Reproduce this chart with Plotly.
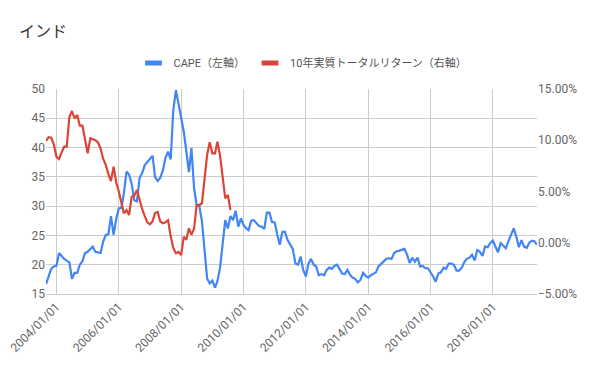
import plotly.graph_objects as go
import pandas as pd

title_text = "インド"
cape_name = "CAPE（左軸）"
ret_name = "10年実質トータルリターン（右軸）"
start_month = "2003-09-01"

# CAPE (left axis), monthly from 2003-09
cape = [
    16.7, 18.0, 19.3, 19.7, 19.8, 22.0, 21.5, 21.0, 20.7, 20.4,
    17.6, 18.6, 18.6, 20.0, 20.6, 22.0, 22.2, 22.7, 23.1, 22.2,
    22.1, 22.0, 23.9, 25.1, 25.2, 28.3, 25.1, 27.8, 29.6, 29.7,
    32.2, 35.9, 35.4, 33.8, 31.0, 30.8, 34.8, 35.6, 37.0, 37.5,
    38.1, 38.6, 35.0, 34.3, 34.8, 36.1, 38.2, 39.3, 38.0, 46.3,
    49.8, 47.4, 45.1, 42.7, 39.5, 35.8, 39.9, 33.0, 30.2, 30.0,
    27.4, 22.2, 17.6, 16.8, 17.3, 16.1, 17.2, 19.5, 24.0, 27.6,
    26.2, 28.3, 27.6, 29.2, 26.5, 27.9, 26.8, 26.2, 25.9, 27.5,
    27.6, 27.0, 26.6, 26.5, 26.1, 28.9, 28.9, 27.3, 27.2, 25.1,
    23.4, 25.6, 25.6, 24.2, 23.5, 22.7, 20.2, 20.0, 21.4, 19.1,
    18.0, 20.2, 21.0, 20.0, 19.7, 18.2, 18.4, 18.2, 19.1, 19.5,
    19.3, 19.8, 20.0, 19.3, 18.5, 18.4, 19.1, 18.3, 17.8, 17.6,
    17.0, 17.4, 18.6, 18.1, 17.8, 18.2, 18.5, 18.7, 19.7, 20.1,
    20.6, 21.0, 21.1, 21.0, 22.0, 22.3, 22.4, 22.5, 22.7, 21.7,
    20.3, 21.2, 20.5, 21.2, 19.7, 19.8, 19.4, 19.4, 18.8, 18.0,
    17.1, 18.5, 18.7, 19.5, 19.3, 20.2, 20.2, 20.0, 19.0, 19.0,
    19.5, 20.5, 21.0, 21.2, 21.7, 20.7, 22.5, 22.2, 21.5, 23.1,
    23.0, 23.7, 24.1, 23.1, 22.1, 23.7, 23.3, 22.8, 24.0, 25.1,
    26.2, 24.8, 23.0, 24.2, 23.1, 22.9, 23.7, 24.1, 24.0, 23.4,
]

# 10-year real total return in % (right axis), monthly from 2003-09
ret10 = [
    9.93, 10.29, 10.25, 9.6, 8.40, 8.17, 8.8, 9.37, 9.37, 12.3,
    12.85, 12.14, 12.46, 11.42, 11.42, 10.19, 8.72, 10.19, 10.09, 10.0,
    9.8, 9.2, 8.2, 7.6, 6.7, 6.02, 7.42, 5.90, 5.0, 3.8,
    2.87, 3.2, 2.71, 4.49, 4.6, 5.15, 4.1, 3.3, 2.6, 2.0,
    1.8, 2.1, 2.9, 3.0, 2.1, 1.9, 2.0, 2.2, 0.6, -0.5,
    -1.03, -0.9, -1.2, 0.59, 0.3, 1.41, 0.76, 1.41, 3.68, 3.68,
    3.85, 6.0, 8.6, 9.8, 8.72, 8.72, 9.86, 8.5, 6.61, 4.34,
    4.66, 3.2,
]

x_ticks = ["2004-01-01", "2006-01-01", "2008-01-01", "2010-01-01",
           "2012-01-01", "2014-01-01", "2016-01-01", "2018-01-01"]

BLUE = "#4285F4"
RED = "#DB4437"

dates_cape = pd.date_range(start_month, periods=len(cape), freq="MS")
dates_ret = dates_cape[:len(ret10)]

# the page body adds an 8px offset, so the figure is sized to fit the window
W, H = 592, 363

fig = go.Figure()
fig.add_trace(go.Scatter(x=dates_cape, y=cape, mode="lines", name=cape_name,
                         line=dict(color=BLUE, width=2.2), showlegend=False, yaxis="y"))
fig.add_trace(go.Scatter(x=dates_ret, y=ret10, mode="lines", name=ret_name,
                         line=dict(color=RED, width=2.2), showlegend=False, yaxis="y2"))
# legend entries with short bar symbols
fig.add_trace(go.Scatter(x=[None], y=[None], mode="markers", name=cape_name,
                         marker=dict(symbol="line-ew", size=12, line=dict(width=5, color=BLUE))))
fig.add_trace(go.Scatter(x=[None], y=[None], mode="markers", name=ret_name,
                         marker=dict(symbol="line-ew", size=12, line=dict(width=5, color=RED))))

fig.update_layout(
    width=W, height=H,
    margin=dict(l=38, r=63, t=81, b=77, autoexpand=False),
    paper_bgcolor="white", plot_bgcolor="white",
    font=dict(family="Roboto, 'Noto Sans CJK JP', sans-serif", size=12, color="#666666"),
    title=dict(text=title_text, x=11 / W, xref="container", xanchor="left",
               y=1 - 23 / H, yref="container", yanchor="middle",
               font=dict(size=16, color="#333333")),
    legend=dict(orientation="h", x=295 / W, xref="container", xanchor="center",
                y=1 - 55 / H, yref="container", yanchor="middle",
                font=dict(size=11, color="#555555"), itemwidth=30),
    xaxis=dict(type="date", range=[dates_cape[0], dates_cape[-1]], automargin=False,
               tickvals=x_ticks, tickformat="%Y/%m/%d", tickangle=-45,
               ticklabeloverflow="allow",
               showgrid=True, gridcolor="#cccccc", ticks="",
               showline=True, linecolor="#cccccc", zeroline=False),
    yaxis=dict(range=[15, 50], dtick=5, gridcolor="#cccccc", zeroline=False, ticks="",
               automargin=False),
    yaxis2=dict(overlaying="y", side="right", range=[-5, 15], dtick=5, automargin=False,
                tickformat=".2f", ticksuffix="%", showgrid=False, zeroline=False, ticks=""),
)

fig.write_html("out.html")
